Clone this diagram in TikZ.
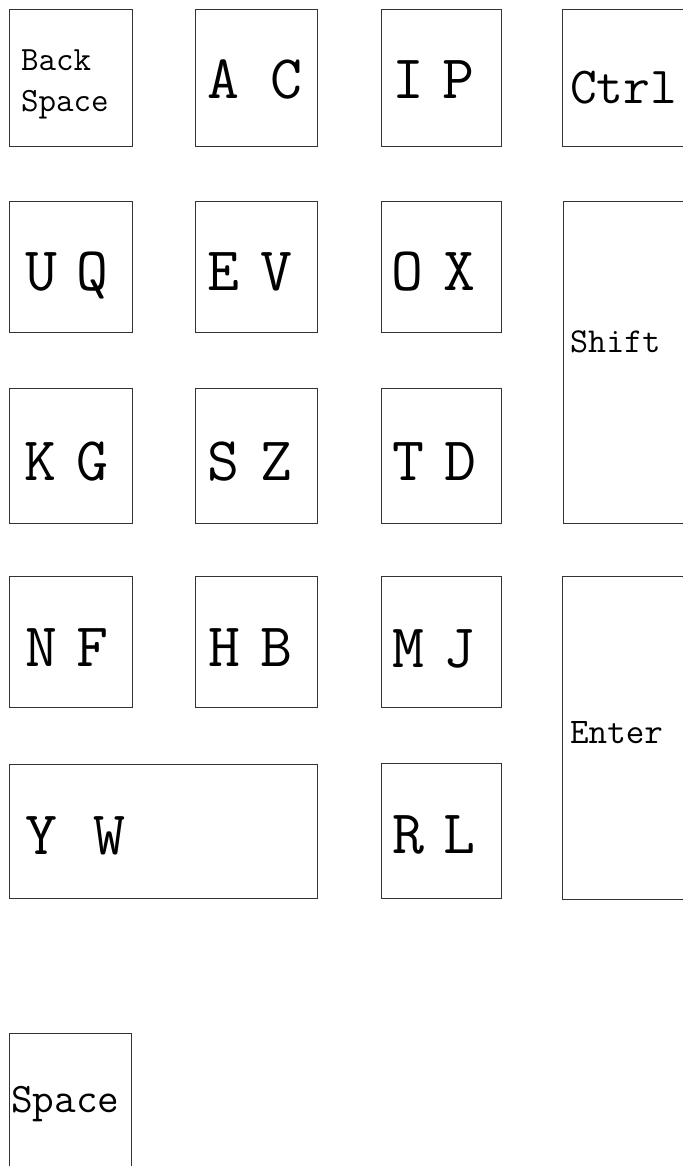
\documentclass[tikz,border=0pt]{standalone}
\usepackage{fontspec}
\usetikzlibrary{positioning}

\begin{document}
\begin{tikzpicture}[
      x=1pt,y=-1pt,
      every node/.style={font=\ttfamily},
      keybox/.style={draw=black!80,line width=1pt},
      big/.style={anchor=base,inner sep=0pt,font=\ttfamily\fontsize{62}{62}\selectfont},
      small/.style={anchor=base west,inner sep=0pt,font=\ttfamily\fontsize{34}{34}\selectfont}
    ]
    \useasboundingbox (0,0) rectangle (682,1166);
    % row 1
    \draw[keybox] (9,10) rectangle (132,147) node[pos=0,coordinate] (bsp) {};
    \draw[keybox] (195,10) rectangle (317,147) node[pos=0,coordinate] (ac) {};
    \draw[keybox] (381,10) rectangle (501,147) node[pos=0,coordinate] (ip) {};
    \draw[keybox] (562,10) rectangle (686,147) node[pos=0,coordinate] (ctrl) {};
    % row 2
    \draw[keybox] (9,202) rectangle (132,332) node[pos=0,coordinate] (uq) {};
    \draw[keybox] (195,202) rectangle (317,332) node[pos=0,coordinate] (ev) {};
    \draw[keybox] (381,202) rectangle (501,332) node[pos=0,coordinate] (ox) {};
    \draw[keybox] (563,202) rectangle (686,523) node[pos=0,coordinate] (shift) {};
    % row 3
    \draw[keybox] (9,388) rectangle (132,523) node[pos=0,coordinate] (kg) {};
    \draw[keybox] (195,388) rectangle (317,523) node[pos=0,coordinate] (sz) {};
    \draw[keybox] (381,388) rectangle (501,523) node[pos=0,coordinate] (td) {};
    % row 4
    \draw[keybox] (9,576) rectangle (132,707) node[pos=0,coordinate] (nf) {};
    \draw[keybox] (195,576) rectangle (317,707) node[pos=0,coordinate] (hb) {};
    \draw[keybox] (381,576) rectangle (501,707) node[pos=0,coordinate] (mj) {};
    \draw[keybox] (562,576) rectangle (686,899) node[pos=0,coordinate] (enter) {};
    % row 5
    \draw[keybox] (9,764) rectangle (317,898) node[pos=0,coordinate] (yw) {};
    \draw[keybox] (381,763) rectangle (501,898) node[pos=0,coordinate] (rl) {};
    % space bar
    \draw[keybox] (9,1033) rectangle (131,1170) node[pos=0,coordinate] (space) {};
    % word labels
    \node[small] at (21,71) {Back};
    \node[small] at (21,112) {Space};
    \node[small,font=\ttfamily\fontsize{52}{52}\selectfont] at (570,104) {Ctrl};
    \node[small,font=\ttfamily\fontsize{35}{35}\selectfont] at (570,352) {Shift};
    \node[small,font=\ttfamily\fontsize{36}{36}\selectfont] at (570,743) {Enter};
    \node[small,font=\ttfamily\fontsize{42}{42}\selectfont] at (11,1112) {Space};
    % letter pairs
    \node[big] at (223.5,99) {A};  \node[big] at (286,99) {C};
    \node[big] at (408.5,99) {I};  \node[big] at (458.5,99) {P};
    \node[big] at (41,290) {U};    \node[big] at (92,290) {Q};
    \node[big] at (223,290) {E};   \node[big] at (276.5,290) {V};
    \node[big] at (407.5,290) {O}; \node[big] at (459,290) {X};
    \node[big] at (40.5,480) {K};  \node[big] at (92.5,480) {G};
    \node[big] at (223.5,480) {S}; \node[big] at (276.5,480) {Z};
    \node[big] at (408.5,480) {T}; \node[big] at (460,480) {D};
    \node[big] at (41,666) {N};    \node[big] at (92.5,666) {F};
    \node[big] at (224,666) {H};   \node[big] at (276.5,666) {B};
    \node[big] at (408,667) {M};   \node[big] at (459,667) {J};
    \node[big] at (41.5,854) {Y};  \node[big] at (109,854) {W};
    \node[big] at (408,853) {R};   \node[big] at (459.5,853) {L};
  \end{tikzpicture}
\end{document}
